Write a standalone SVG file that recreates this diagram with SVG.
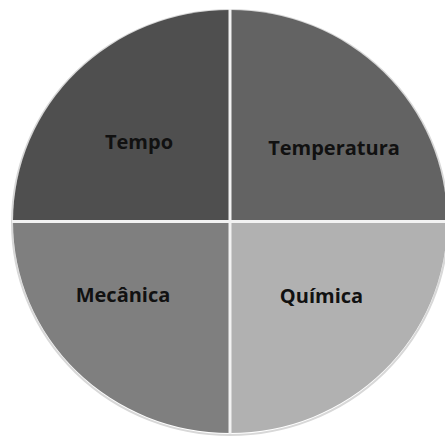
<svg xmlns="http://www.w3.org/2000/svg" width="445" height="438" viewBox="0 0 445 438">
<style>
.q{stroke:none}
.lbl{font-family:"Open Sans","Liberation Sans",sans-serif;font-weight:bold;font-size:20px;fill:#111;text-anchor:middle}
.sep{stroke:#f2f2f2;stroke-width:3;fill:none}
</style>
<rect width="445" height="438" fill="#ffffff"/>
<ellipse cx="230" cy="222.5" rx="218" ry="212.5" fill="none" stroke="#d8d8d8" stroke-width="2"/>
<g id="tempo">
<path class="q" fill="#4f4f4f" d="M230,221.5 L13,221.5 A217,211.5 0 0 1 230,10 Z"/>
<text class="lbl" x="139" y="149">Tempo</text>
</g>
<g id="temperatura">
<path class="q" fill="#636363" d="M230,221.5 L230,10 A217,211.5 0 0 1 447,221.5 Z"/>
<text class="lbl" x="334" y="155">Temperatura</text>
</g>
<g id="mecanica">
<path class="q" fill="#7f7f7f" d="M230,221.5 L230,433 A217,211.5 0 0 1 13,221.5 Z"/>
<text class="lbl" x="123" y="302">Mecânica</text>
</g>
<g id="quimica">
<path class="q" fill="#b1b1b1" d="M230,221.5 L447,221.5 A217,211.5 0 0 1 230,433 Z"/>
<text class="lbl" x="321.5" y="303">Química</text>
</g>
<g id="connectors">
<line class="sep" x1="230" y1="9" x2="230" y2="434"/>
<line class="sep" x1="12" y1="221.5" x2="448" y2="221.5"/>
</g>
</svg>
